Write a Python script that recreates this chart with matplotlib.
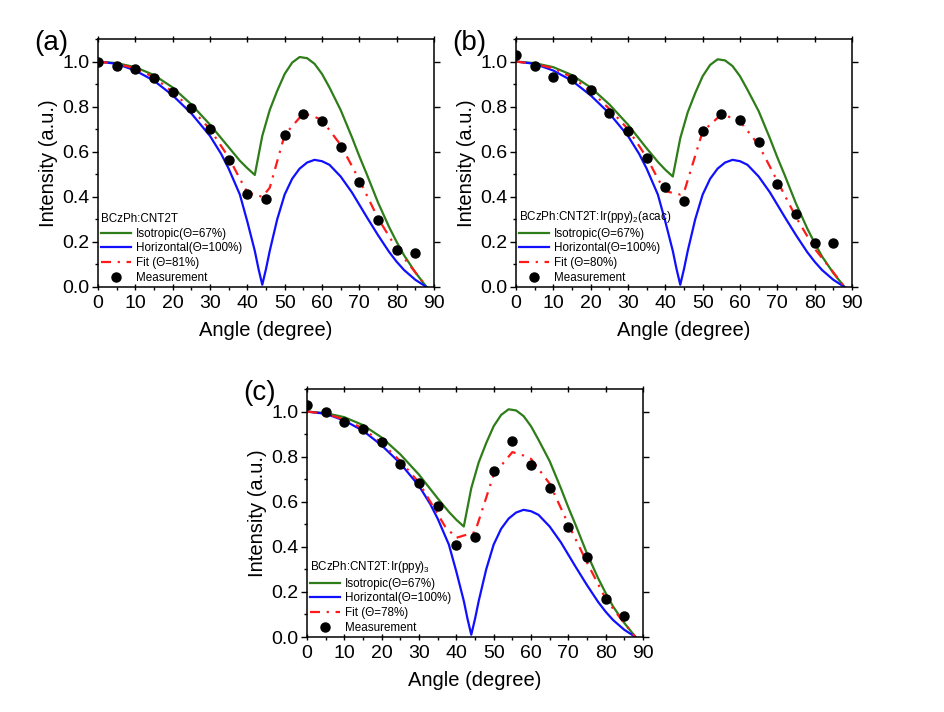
import matplotlib
matplotlib.use("Agg")
import matplotlib.pyplot as plt
from matplotlib.ticker import MultipleLocator

plt.rcParams['font.family'] = ['Liberation Sans', 'DejaVu Sans']
plt.rcParams['mathtext.fontset'] = 'custom'
plt.rcParams['mathtext.rm'] = 'Liberation Sans'
plt.rcParams['mathtext.it'] = 'Liberation Sans:italic'

# ---------------- data ----------------
# horizontal dipole model (same for all panels)
hor_angle = [0, 5, 10, 15, 20, 25, 30, 33, 35, 38, 40, 42, 43, 44, 45, 46, 48, 50, 52, 54,
             56, 58, 60, 62, 65, 68, 70, 72, 75, 78, 80, 82, 85, 88]
hor_val = [1.0, 0.99, 0.96, 0.915, 0.85, 0.77, 0.67, 0.59, 0.525, 0.41, 0.29, 0.16, 0.08, 0.01,
           0.08, 0.16, 0.30, 0.41, 0.48, 0.525, 0.552, 0.564, 0.558, 0.542, 0.49, 0.42, 0.365,
           0.31, 0.23, 0.155, 0.112, 0.075, 0.032, 0.0]

# isotropic model
iso_angle = [0, 5, 10, 15, 20, 25, 30, 35, 38, 40, 42, 44, 46, 48, 50, 52, 54, 56, 58, 60,
             62, 65, 68, 70, 72, 75, 78, 80, 82, 85, 88]
iso_a = [1.0, 0.993, 0.975, 0.94, 0.885, 0.81, 0.72, 0.62, 0.56, 0.527, 0.497, 0.67, 0.785,
         0.87, 0.945, 0.995, 1.02, 1.015, 0.99, 0.945, 0.885, 0.785, 0.665, 0.58, 0.5, 0.375,
         0.265, 0.20, 0.14, 0.065, 0.0]
iso_bc = [1.0, 0.993, 0.975, 0.94, 0.885, 0.81, 0.72, 0.615, 0.555, 0.52, 0.49, 0.66, 0.775,
          0.86, 0.935, 0.985, 1.01, 1.005, 0.98, 0.935, 0.875, 0.78, 0.66, 0.575, 0.495, 0.37,
          0.26, 0.195, 0.135, 0.062, 0.0]

# fits
fit_angle_a = [0, 5, 10, 15, 20, 25, 30, 35, 38, 40, 44, 46, 50, 55, 58, 60, 65, 70, 75, 80, 85, 88]
fit_a = [1.0, 0.99, 0.97, 0.93, 0.865, 0.79, 0.70, 0.575, 0.48, 0.42, 0.40, 0.44, 0.675, 0.77,
         0.755, 0.74, 0.63, 0.475, 0.305, 0.17, 0.065, 0.0]
fit_angle_b = [0, 5, 10, 15, 20, 25, 30, 35, 38, 40, 44, 45, 50, 55, 58, 60, 65, 70, 75, 80, 85, 88]
fit_b = [1.0, 0.99, 0.97, 0.93, 0.87, 0.79, 0.70, 0.575, 0.48, 0.425, 0.41, 0.42, 0.69, 0.765,
         0.75, 0.735, 0.63, 0.47, 0.31, 0.17, 0.065, 0.0]
fit_angle_c = [0, 5, 10, 15, 20, 25, 30, 35, 37, 40, 45, 50, 55, 58, 60, 65, 70, 75, 80, 85, 88]
fit_c = [1.0, 0.99, 0.965, 0.925, 0.86, 0.78, 0.685, 0.545, 0.49, 0.44, 0.465, 0.72, 0.82,
         0.805, 0.79, 0.68, 0.50, 0.33, 0.17, 0.06, 0.0]

# measurements
meas_angle = [0, 5, 10, 15, 20, 25, 30, 35, 40, 45, 50, 55, 60, 65, 70, 75, 80, 85]
meas_a = [1.0, 0.979, 0.966, 0.927, 0.866, 0.792, 0.702, 0.565, 0.412, 0.392, 0.672, 0.769,
          0.737, 0.622, 0.467, 0.298, 0.166, 0.153]
meas_b = [1.03, 0.979, 0.930, 0.921, 0.874, 0.772, 0.694, 0.571, 0.445, 0.383, 0.694, 0.769,
          0.742, 0.644, 0.455, 0.325, 0.196, 0.196]
meas_c = [1.03, 0.997, 0.955, 0.924, 0.864, 0.769, 0.681, 0.582, 0.408, 0.445, 0.737, 0.871,
          0.761, 0.663, 0.490, 0.353, 0.169, 0.092]

panel_labels = ['(a)', '(b)', '(c)']
titles = ['BCzPh:CNT2T', 'BCzPh:CNT2T:Ir(ppy)$_2$(acac)', 'BCzPh:CNT2T:Ir(ppy)$_3$']
fit_labels = ['Fit (\u0398=81%)', 'Fit (\u0398=80%)', 'Fit (\u0398=78%)']
iso_label = 'Isotropic(\u0398=67%)'
hor_label = 'Horizontal(\u0398=100%)'
meas_label = 'Measurement'
xticks = [0, 10, 20, 30, 40, 50, 60, 70, 80, 90]
yticks = [0.0, 0.2, 0.4, 0.6, 0.8, 1.0]

# ---------------- figure ----------------
W, H = 945, 712
fig = plt.figure(figsize=(W / 100, H / 100), dpi=100)

boxes = [(98, 39, 336, 248), (516, 39, 336, 248), (307, 389, 336, 248)]
isos = [iso_a, iso_bc, iso_bc]
fits = [(fit_angle_a, fit_a), (fit_angle_b, fit_b), (fit_angle_c, fit_c)]
meas = [meas_a, meas_b, meas_c]

green = '#2e7d19'
blue = '#1010ff'
red = '#ff1a1a'

for i, (l, t, w, h) in enumerate(boxes):
    ax = fig.add_axes([l / W, 1 - (t + h) / H, w / W, h / H])
    ax.plot(iso_angle, isos[i], color=green, lw=1.6, label=iso_label)
    ax.plot(hor_angle, hor_val, color=blue, lw=1.6, label=hor_label)
    ax.plot(fits[i][0], fits[i][1], color=red, lw=1.6, ls=(0, (4.5, 3, 1, 3)), label=fit_labels[i])
    ax.plot(meas_angle, meas[i], 'o', color='black', ms=6.5, label=meas_label, zorder=5)

    ax.set_xlim(0, 90)
    ax.set_ylim(0, 1.1)
    ax.set_xticks(xticks)
    ax.set_yticks(yticks)
    ax.set_yticklabels([f'{v:.1f}' for v in yticks])
    ax.xaxis.set_minor_locator(MultipleLocator(5))
    ax.yaxis.set_minor_locator(MultipleLocator(0.1))
    ax.tick_params(which='major', direction='out', length=4, width=1, labelsize=14)
    ax.tick_params(which='major', axis='x', pad=4)
    ax.tick_params(which='major', axis='y', pad=2)
    ax.tick_params(which='minor', direction='out', length=2, width=1)
    ax.tick_params(which='major', top=True, right=True)
    ax.tick_params(which='minor', top=False, right=False)
    ax.tick_params(which='major', axis='x', top=True, direction='inout', length=4)
    for s in ax.spines.values():
        s.set_linewidth(1.1)
    ax.set_xlabel('Angle (degree)', fontsize=14.5, labelpad=6)
    ax.set_ylabel('Intensity (a.u.)', fontsize=14.5, labelpad=3)
    ax.text(-0.19, 0.985, panel_labels[i], transform=ax.transAxes, fontsize=20,
            ha='left', va='center')

    leg = ax.legend(loc='lower left', bbox_to_anchor=(0.0, 0.0), frameon=False,
                    fontsize=8.4, title=titles[i], title_fontsize=8.4,
                    alignment='left', labelspacing=0.24, handlelength=2.6,
                    handletextpad=0.4, borderpad=0.15, borderaxespad=0.1)

fig.savefig('out.png', dpi=100)
